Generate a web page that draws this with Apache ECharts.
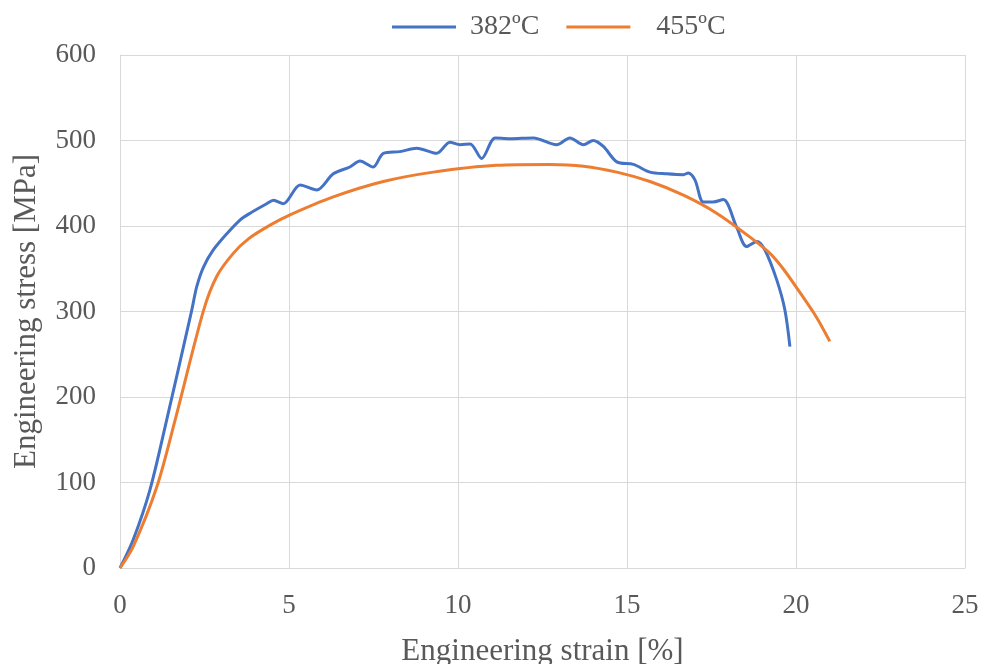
<!DOCTYPE html>
<html>
<head>
<meta charset="utf-8">
<script src="https://cdn.jsdelivr.net/npm/echarts@6/dist/echarts.min.js"></script>
<style>
html,body{margin:0;padding:0;background:#fff;}
#chart{width:982px;height:664px;}
</style>
</head>
<body>
<div id="chart"></div>
<script>
const seriesNames = ['382ºC', '455ºC'];
const xTicks = [0, 5, 10, 15, 20, 25];
const yTicks = [0, 100, 200, 300, 400, 500, 600];

const strain382 = [0, 0.39, 0.89, 1.38, 2.12, 2.27, 2.47, 2.76, 3.16, 3.55, 3.85, 4.34, 4.54, 4.83, 5.33, 5.82, 6.31, 6.8, 7.1, 7.49, 7.79, 8.28, 8.78, 9.37, 9.76, 10.06, 10.36, 10.7, 11.1, 11.54, 12.23, 12.92, 13.31, 13.71, 14.0, 14.3, 14.7, 15.19, 15.68, 16.17, 16.67, 16.81, 17.01, 17.26, 17.55, 17.85, 18.24, 18.54, 18.84, 19.08, 19.43, 19.67, 19.82];
const stress382 = [0, 33, 92, 173, 301, 329, 352, 372, 391, 407, 415, 426, 430, 426, 448, 442, 461, 469, 476, 469, 485, 487, 491, 485, 498, 495, 496, 479, 503, 502, 503, 495, 503, 495, 500, 493, 475, 472, 463, 461, 460, 462, 454, 428, 428, 431, 399, 376, 382, 372, 337, 302, 259];

const strain455 = [0, 0.39, 1.09, 1.63, 2.47, 2.86, 3.35, 3.8, 4.44, 5.03, 6.31, 7.79, 9.27, 11.14, 12.72, 13.71, 14.7, 15.68, 16.67, 17.65, 18.64, 19.23, 19.62, 20.12, 20.61, 21.0];
const stress455 = [0, 25, 95, 173, 301, 341, 368, 385, 401, 413, 434, 452, 463, 471, 472, 470, 463, 452, 436, 415, 387, 368, 350, 322, 293, 265];

function pairs(xs, ys) { return xs.map((x, i) => [x, ys[i]]); }

const font = 'Liberation Serif, Times New Roman, serif';
const chart = echarts.init(document.getElementById('chart'), null, {renderer: 'canvas'});
chart.setOption({
  animation: false,
  backgroundColor: '#ffffff',
  color: ['#4472C4', '#ED7D31'],
  legend: {
    top: 8,
    left: 387,
    itemWidth: 64,
    itemHeight: 3,
    itemGap: 27,
    textStyle: {fontFamily: font, fontSize: 28, color: '#595959'},
    data: [
      {name: seriesNames[0], icon: 'rect', textStyle: {padding: [0, 0, 0, 9]}},
      {name: seriesNames[1], icon: 'rect', textStyle: {padding: [0, 0, 0, 21]}}
    ]
  },
  grid: {left: 120, right: 17, top: 55, bottom: 96, containLabel: false, outerBoundsMode: 'none'},
  xAxis: {
    type: 'value', min: xTicks[0], max: xTicks[xTicks.length - 1], interval: 5,
    name: 'Engineering strain [%]', nameLocation: 'middle', nameGap: 68,
    nameTextStyle: {fontFamily: font, fontSize: 31, color: '#595959'},
    axisLine: {show: true, lineStyle: {color: '#d9d9d9', width: 1}},
    axisTick: {show: false},
    axisLabel: {fontFamily: font, fontSize: 27, color: '#595959', margin: 24},
    splitLine: {show: true, lineStyle: {color: '#d9d9d9', width: 1}}
  },
  yAxis: {
    type: 'value', min: yTicks[0], max: yTicks[yTicks.length - 1], interval: 100,
    name: 'Engineering stress [MPa]', nameLocation: 'middle', nameGap: 78,
    nameTextStyle: {fontFamily: font, fontSize: 31, color: '#595959'},
    axisLine: {show: true, lineStyle: {color: '#d9d9d9', width: 1}},
    axisTick: {show: false},
    axisLabel: {fontFamily: font, fontSize: 27, color: '#595959', margin: 24},
    splitLine: {show: true, lineStyle: {color: '#d9d9d9', width: 1}}
  },
  series: [
    {name: seriesNames[0], type: 'line', smooth: 0.3, showSymbol: false, lineStyle: {width: 3}, data: pairs(strain382, stress382)},
    {name: seriesNames[1], type: 'line', smooth: 0.3, showSymbol: false, lineStyle: {width: 3}, data: pairs(strain455, stress455)}
  ]
});
</script>
</body>
</html>
